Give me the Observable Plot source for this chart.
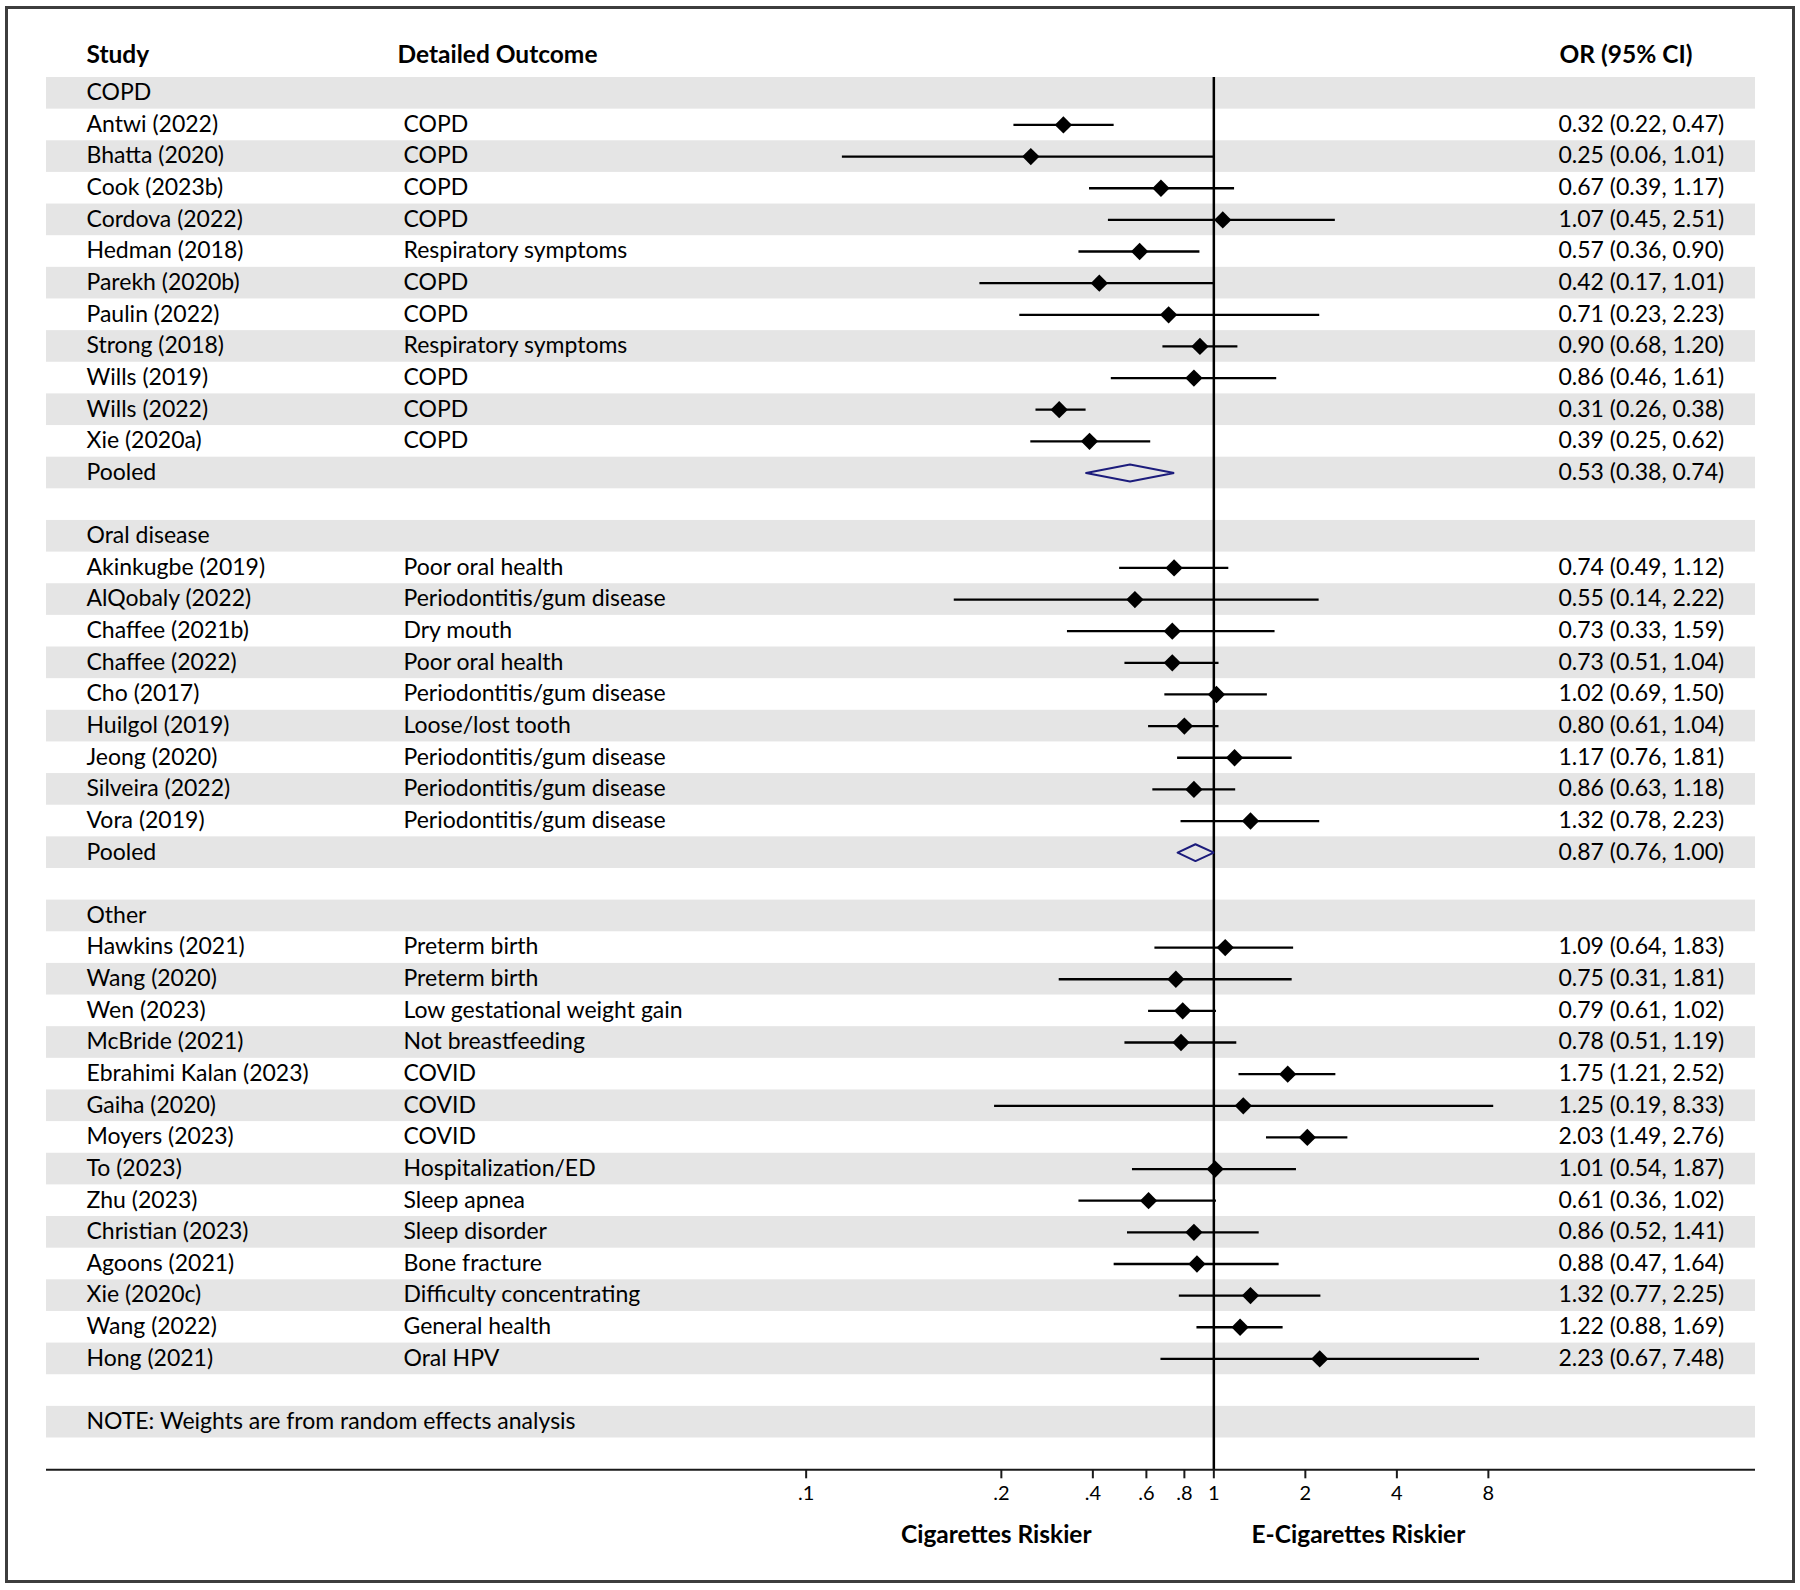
<!DOCTYPE html>
<html>
<head>
<meta charset="utf-8">
<script src="https://cdn.jsdelivr.net/npm/d3@7"></script>
<script src="https://cdn.jsdelivr.net/npm/@observablehq/plot@0.6"></script>
<style>
  body { margin: 0; background: #fff; }
  #wrap { position: relative; width: 1800px; height: 1590px; overflow: hidden; background: #fff; }
  #chart { position: absolute; left: 0; top: 0; }
  #border { position: absolute; left: 5px; top: 6px; width: 1790px; height: 1577px; box-sizing: border-box; border: 3px solid #3d3d3d; pointer-events: none; }
</style>
</head>
<body>
<div id="wrap"><div id="chart"></div><div id="border"></div></div>
<script>
// ---------------- data ----------------
const groupNames = ["COPD", "Oral disease", "Other"];

const studyNames = [
  "Antwi (2022)", "Bhatta (2020)", "Cook (2023b)", "Cordova (2022)", "Hedman (2018)", "Parekh (2020b)",
  "Paulin (2022)", "Strong (2018)", "Wills (2019)", "Wills (2022)", "Xie (2020a)",
  "Akinkugbe (2019)", "AlQobaly (2022)", "Chaffee (2021b)", "Chaffee (2022)", "Cho (2017)",
  "Huilgol (2019)", "Jeong (2020)", "Silveira (2022)", "Vora (2019)",
  "Hawkins (2021)", "Wang (2020)", "Wen (2023)", "McBride (2021)", "Ebrahimi Kalan (2023)",
  "Gaiha (2020)", "Moyers (2023)", "To (2023)", "Zhu (2023)", "Christian (2023)",
  "Agoons (2021)", "Xie (2020c)", "Wang (2022)", "Hong (2021)"
];
const studyOutcomes = [
  "COPD", "COPD", "COPD", "COPD", "Respiratory symptoms", "COPD",
  "COPD", "Respiratory symptoms", "COPD", "COPD", "COPD",
  "Poor oral health", "Periodontitis/gum disease", "Dry mouth", "Poor oral health", "Periodontitis/gum disease",
  "Loose/lost tooth", "Periodontitis/gum disease", "Periodontitis/gum disease", "Periodontitis/gum disease",
  "Preterm birth", "Preterm birth", "Low gestational weight gain", "Not breastfeeding", "COVID",
  "COVID", "COVID", "Hospitalization/ED", "Sleep apnea", "Sleep disorder",
  "Bone fracture", "Difficulty concentrating", "General health", "Oral HPV"
];
const studyGroup = [
  0,0,0,0,0,0,0,0,0,0,0,
  1,1,1,1,1,1,1,1,1,
  2,2,2,2,2,2,2,2,2,2,2,2,2,2
];
const oddsRatio = [
  0.32, 0.25, 0.67, 1.07, 0.57, 0.42, 0.71, 0.90, 0.86, 0.31, 0.39,
  0.74, 0.55, 0.73, 0.73, 1.02, 0.80, 1.17, 0.86, 1.32,
  1.09, 0.75, 0.79, 0.78, 1.75, 1.25, 2.03, 1.01, 0.61, 0.86, 0.88, 1.32, 1.22, 2.23
];
const ciLower = [
  0.22, 0.06, 0.39, 0.45, 0.36, 0.17, 0.23, 0.68, 0.46, 0.26, 0.25,
  0.49, 0.14, 0.33, 0.51, 0.69, 0.61, 0.76, 0.63, 0.78,
  0.64, 0.31, 0.61, 0.51, 1.21, 0.19, 1.49, 0.54, 0.36, 0.52, 0.47, 0.77, 0.88, 0.67
];
const ciUpper = [
  0.47, 1.01, 1.17, 2.51, 0.90, 1.01, 2.23, 1.20, 1.61, 0.38, 0.62,
  1.12, 2.22, 1.59, 1.04, 1.50, 1.04, 1.81, 1.18, 2.23,
  1.83, 1.81, 1.02, 1.19, 2.52, 8.33, 2.76, 1.87, 1.02, 1.41, 1.64, 2.25, 1.69, 7.48
];
const pooledOR    = [0.53, 0.87, null];
const pooledLower = [0.38, 0.76, null];
const pooledUpper = [0.74, 1.00, null];

const columnHeaders = ["Study", "Detailed Outcome", "OR (95% CI)"];
const pooledLabel = "Pooled";
const noteText = "NOTE: Weights are from random effects analysis";
// tick positions as drawn in the original (its ".1" label sits left of the true 0.1)
const tickValues = [0.0456, 0.2, 0.4, 0.6, 0.8, 1, 2, 4, 8];
const tickLabels = [".1", ".2", ".4", ".6", ".8", "1", "2", "4", "8"];
const sideLabels = ["Cigarettes Riskier", "E-Cigarettes Riskier"];
const sideLabelAt = [0.1925, 2.99];

// ---------------- layout rows (built from data) ----------------
const fmt = v => v.toFixed(2);
const groupRows = [], studyRows = [], pooledRows = [];
let r = 0;
groupNames.forEach((g, gi) => {
  groupRows.push({label: g, row: r++});
  studyNames.forEach((s, i) => {
    if (studyGroup[i] !== gi) return;
    studyRows.push({
      study: s, outcome: studyOutcomes[i], or: oddsRatio[i], lo: ciLower[i], hi: ciUpper[i],
      text: `${fmt(oddsRatio[i])} (${fmt(ciLower[i])}, ${fmt(ciUpper[i])})`, row: r++
    });
  });
  if (pooledOR[gi] != null) {
    pooledRows.push({
      group: g, or: pooledOR[gi], lo: pooledLower[gi], hi: pooledUpper[gi],
      text: `${fmt(pooledOR[gi])} (${fmt(pooledLower[gi])}, ${fmt(pooledUpper[gi])})`, row: r++
    });
  }
  r++; // blank spacer row
});
const noteRow = r++;
const nRows = r;
const bandRows = d3.range(0, nRows, 2);

// ---------------- scales ----------------
const W = 1800, H = 1590;
const mL = 46, mR = 45, mT = 77, mB = 120.7;
const yBottom = 43.505;               // axis sits just below the last band
const rowPx = (H - mB - mT) / (yBottom + 0.5);
const xDomain = [1.446e-4, 60.5];     // log scale: 1 at x≈1213, ~304px per decade

const halfH = 8.4 / rowPx; // pooled diamond half-height in row units
const pooledPts = pooledRows.flatMap(p => [
  {g: p.group, x: p.lo, y: p.row},
  {g: p.group, x: p.or, y: p.row - halfH},
  {g: p.group, x: p.hi, y: p.row},
  {g: p.group, x: p.or, y: p.row + halfH},
  {g: p.group, x: p.lo, y: p.row}
]);

const font = "Lato, 'Open Sans', 'Noto Sans', sans-serif";
const fs = 23, fsBold = 24.5;
const textDy = -0.5;

const chart = Plot.plot({
  width: W, height: H,
  marginLeft: mL, marginRight: mR, marginTop: mT, marginBottom: mB,
  style: {fontFamily: font, fontSize: fs + "px", color: "#000", background: "transparent"},
  x: {type: "log", domain: xDomain, label: null, axis: null},
  y: {type: "linear", domain: [-0.5, yBottom], range: [mT, H - mB], axis: null},
  marks: [
    // stripes
    Plot.rect(bandRows, {x1: () => xDomain[0], x2: () => xDomain[1], y1: d => d - 0.5, y2: d => d + 0.5, fill: "#e5e5e5"}),
    // null line
    Plot.ruleX([1], {y1: () => -0.5, y2: () => yBottom, stroke: "#000", strokeWidth: 2.5}),
    // axis line, ticks and labels
    Plot.ruleY([yBottom], {stroke: "#1a1a1a", strokeWidth: 2}),
    Plot.ruleX(tickValues, {x: d => d, y1: () => yBottom, y2: () => yBottom + 9 / rowPx, stroke: "#1a1a1a", strokeWidth: 2}),
    Plot.text(tickValues, {x: d => d, text: (d, i) => tickLabels[i], frameAnchor: "bottom", dy: 30, fontSize: 20}),
    // CIs and estimates
    Plot.ruleY(studyRows, {y: "row", x1: "lo", x2: "hi", stroke: "#000", strokeWidth: 2.3}),
    Plot.dot(studyRows, {x: "or", y: "row", symbol: "diamond2", r: 7.8, fill: "#000", stroke: null}),
    Plot.line(pooledPts, {x: "x", y: "y", z: "g", stroke: "#1c1c7c", strokeWidth: 2, strokeLinejoin: "miter"}),
    // headers
    Plot.text([columnHeaders[0]], {text: d => d, y: () => -1, frameAnchor: "left", dx: 40, dy: -6.5, textAnchor: "start", fontWeight: "bold", fontSize: fsBold}),
    Plot.text([columnHeaders[1]], {text: d => d, y: () => -1, frameAnchor: "left", dx: 351, dy: -6.5, textAnchor: "start", fontWeight: "bold", fontSize: fsBold}),
    Plot.text([columnHeaders[2]], {text: d => d, y: () => -1, frameAnchor: "left", dx: 1513, dy: -6.5, textAnchor: "start", fontWeight: "bold", fontSize: fsBold}),
    // group labels
    Plot.text(groupRows, {text: "label", y: "row", frameAnchor: "left", dx: 40, dy: textDy, textAnchor: "start", fontSize: fs}),
    // study rows
    Plot.text(studyRows, {text: "study", y: "row", frameAnchor: "left", dx: 40, dy: textDy, textAnchor: "start", fontSize: fs}),
    Plot.text(studyRows, {text: "outcome", y: "row", frameAnchor: "left", dx: 357, dy: textDy, textAnchor: "start", fontSize: fs}),
    Plot.text(studyRows, {text: "text", y: "row", frameAnchor: "left", dx: 1512, dy: textDy, textAnchor: "start", fontSize: fs}),
    // pooled rows
    Plot.text(pooledRows, {text: () => pooledLabel, y: "row", frameAnchor: "left", dx: 40, dy: textDy, textAnchor: "start", fontSize: fs}),
    Plot.text(pooledRows, {text: "text", y: "row", frameAnchor: "left", dx: 1512, dy: textDy, textAnchor: "start", fontSize: fs}),
    // note
    Plot.text([noteText], {text: d => d, y: () => noteRow, frameAnchor: "left", dx: 40, dy: textDy, textAnchor: "start", fontSize: fs}),
    // side labels
    Plot.text(sideLabels, {text: d => d, x: (d, i) => sideLabelAt[i], frameAnchor: "bottom", dy: 73, fontWeight: "bold", fontSize: fsBold})
  ]
});
document.getElementById("chart").appendChild(chart);
</script>
</body>
</html>
